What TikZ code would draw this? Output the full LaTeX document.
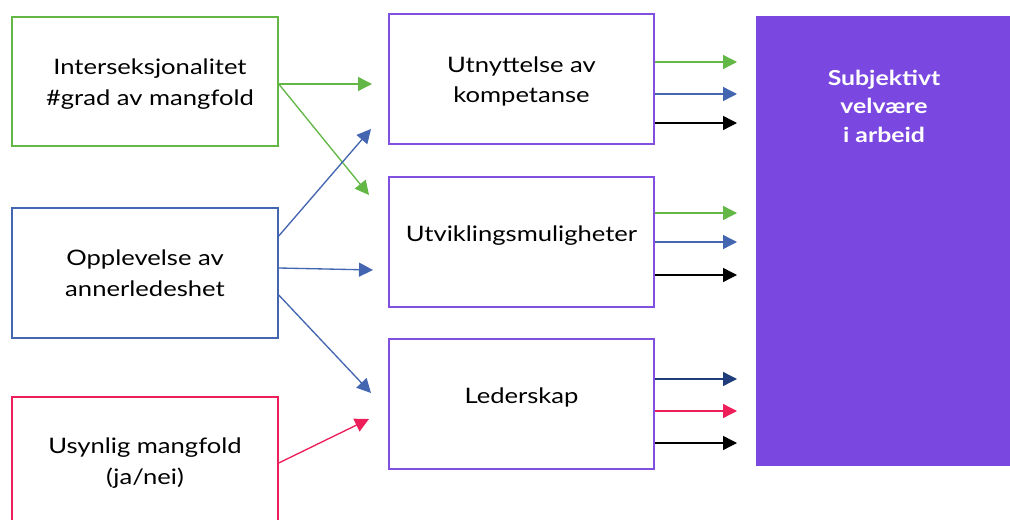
\documentclass[tikz,border=0pt]{standalone}
\usepackage{fontspec}
\setmainfont{Lato}[FakeStretch=1.2]
\usetikzlibrary{arrows.meta}
\definecolor{cgreen}{HTML}{62B746}
\definecolor{cblue}{HTML}{4466B0}
\definecolor{cpink}{HTML}{EE1E5A}
\definecolor{cpurp}{HTML}{8250E0}
\definecolor{cfill}{HTML}{7A48E0}
\definecolor{cdblue}{HTML}{1E3D7A}
\tikzset{
  box/.style={draw, line width=1.6pt, minimum width=199pt, minimum height=97pt, inner sep=0pt},
  lbl/.style={align=center, font=\fontsize{16}{23}\selectfont, text=black, inner sep=0pt},
  conn/.style={line width=1pt, -{Triangle[length=10.5pt,width=10.5pt]}},
}
\begin{document}
\begin{tikzpicture}[x=0.75pt,y=-0.75pt]
\useasboundingbox (0,0) rectangle (1010,520);
\clip (0,0) rectangle (1010,520);
% left boxes
\node[box, draw=cgreen] (g) at (145,81.5) {};
\node[lbl] (gt) at (150,84) {Interseksjonalitet\\\#grad av mangfold};
\node[box, draw=cblue] (b) at (145,273) {};
\node[lbl] (bt) at (145,273) {Opplevelse av\\annerledeshet};
\node[box, draw=cpink] (p) at (145,462) {};
\node[lbl] (pt) at (145,463) {Usynlig mangfold\\(ja/nei)};
% middle boxes
\node[box, draw=cpurp] (m1) at (521.5,79) {};
\node[lbl] (m1t) at (521.5,81.5) {Utnyttelse av\\kompetanse};
\node[box, draw=cpurp] (m2) at (521.5,242) {};
\node[lbl] (m2t) at (521.5,236) {Utviklingsmuligheter};
\node[box, draw=cpurp] (m3) at (521.5,404) {};
\node[lbl] (m3t) at (521.5,397) {Lederskap};
% right filled box
\node[fill=cfill, minimum width=190.5pt, minimum height=337.5pt, inner sep=0pt] (r) at (883,241) {};
\node[text=white, align=center, inner sep=0pt, font=\bfseries\fontsize{15.5}{21.4}\selectfont] (rt) at (884,106) {Subjektivt\\velvære\\i arbeid};
% connector endpoints
\coordinate (g1) at (372,84);
\coordinate (g2) at (369,195);
\coordinate (b1) at (371,129);
\coordinate (b2) at (373,270);
\coordinate (b3) at (371,393);
\coordinate (p1) at (369,419);
\draw[conn, draw=cgreen, fill=cgreen] (g.east|-0,84) -- (g1);
\draw[conn, draw=cgreen, fill=cgreen] (g.east|-0,84) -- (g2);
\draw[conn, draw=cblue, fill=cblue] (b.east|-0,236) -- (b1);
\draw[conn, draw=cblue, fill=cblue] (b.east|-0,268) -- (b2);
\draw[conn, draw=cblue, fill=cblue] (b.east|-0,295) -- (b3);
\draw[conn, draw=cpink, fill=cpink] (p.east|-0,463) -- (p1);
% right arrows
\foreach \src/\y/\c/\n in {m1/62/cgreen/a, m1/94/cblue/b, m1/123/black/c, m2/213/cgreen/d, m2/242/cblue/e, m2/275/black/f, m3/379/cdblue/g, m3/411/cpink/h, m3/443/black/i}{
  \coordinate (e\n) at (737,\y);
  \draw[conn, draw=\c, fill=\c] (\src.east|-e\n) -- (e\n);
}
\end{tikzpicture}
\end{document}
